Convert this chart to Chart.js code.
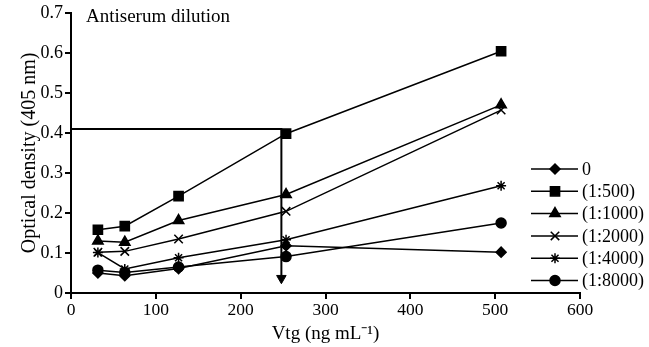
<!DOCTYPE html>
<html>
<head>
<meta charset="utf-8">
<script src="https://cdn.jsdelivr.net/npm/chart.js@4.4.1/dist/chart.umd.min.js"></script>
<style>
  html, body { margin: 0; padding: 0; background: #fff; }
  #wrap { width: 649px; height: 347px; }
</style>
</head>
<body>
<div id="wrap"><canvas id="myChart"></canvas></div>
<script>
// Vtg concentrations (ng/mL)
var vtg = [31.7, 63.4, 126.8, 253.5, 507];

var seriesNames = ["0", "(1:500)", "(1:1000)", "(1:2000)", "(1:4000)", "(1:8000)"];
var od0     = [0.050, 0.043, 0.061, 0.118, 0.102];
var od500   = [0.158, 0.167, 0.242, 0.398, 0.604];
var od1000  = [0.130, 0.127, 0.181, 0.246, 0.470];
var od2000  = [0.102, 0.104, 0.135, 0.204, 0.457];
var od4000  = [0.101, 0.060, 0.088, 0.133, 0.268];
var od8000  = [0.057, 0.051, 0.065, 0.091, 0.175];

// guide line: read 0.41 OD across to ~248 ng/mL, arrow down
var guideX = [0, 248, 248];
var guideY = [0.41, 0.41, 0.037];

var xTicks = [0, 100, 200, 300, 400, 500, 600];
var yTicks = [0, 0.1, 0.2, 0.3, 0.4, 0.5, 0.6, 0.7];

var FONT = "'Liberation Serif', 'Times New Roman', serif";

function pts(ys) {
    return vtg.map(function (x, i) { return { x: x, y: ys[i] }; });
}

var styles = [
    { pointStyle: 'rectRot', radius: 5 },
    { pointStyle: 'rect', radius: 6.5 },
    { pointStyle: 'triangle', radius: 6 },
    { pointStyle: 'crossRot', radius: 6 },
    { pointStyle: 'star', radius: 5 },
    { pointStyle: 'circle', radius: 5 }
];
var allSeries = [od0, od500, od1000, od2000, od4000, od8000];

var datasets = allSeries.map(function (ys, i) {
    return {
        label: seriesNames[i],
        data: pts(ys),
        borderColor: 'black',
        backgroundColor: 'black',
        borderWidth: 1.5,
        pointStyle: styles[i].pointStyle,
        pointRadius: styles[i].radius,
        pointBorderWidth: 1.5,
        pointBorderColor: 'black',
        pointBackgroundColor: 'black',
        tension: 0
    };
});

datasets.push({
    label: 'guide',
    data: guideX.map(function (x, i) { return { x: x, y: guideY[i] }; }),
    borderColor: 'black',
    backgroundColor: 'black',
    borderWidth: 2,
    pointStyle: 'triangle',
    pointRadius: [0, 0, 5.5],
    pointRotation: 180,
    pointBackgroundColor: 'black',
    pointBorderColor: 'black',
    pointBorderWidth: 1,
    tension: 0
});

// legend + inner title drawn by hand (legend sits inside plot, right side)
var extras = {
    id: 'extras',
    afterDraw: function (chart) {
        var c = chart.ctx;
        var area = chart.chartArea;
        c.save();
        c.fillStyle = 'black';
        c.font = '19px ' + FONT;
        c.textBaseline = 'alphabetic';
        c.textAlign = 'left';
        c.fillText('Antiserum dilution', area.left + 15, area.top + 9);

        c.font = '18px ' + FONT;
        c.textBaseline = 'middle';
        for (var i = 0; i < seriesNames.length; i++) {
            var y = 169 + i * 22.3;
            c.strokeStyle = 'black';
            c.lineWidth = 1.5;
            c.beginPath();
            c.moveTo(531, y);
            c.lineTo(578, y);
            c.stroke();
            Chart.helpers.drawPoint(c, {
                pointStyle: styles[i].pointStyle,
                radius: styles[i].radius,
                rotation: 0,
                borderWidth: 1.5
            }, 555, y);
            c.fillText(seriesNames[i], 582, y + 1);
        }
        c.restore();
    }
};

var ctx = document.getElementById("myChart");
var myChart = new Chart(ctx, {
    type: 'line',
    data: { datasets: datasets },
    options: {
        responsive: true,
        maintainAspectRatio: false,
        animation: false,
        layout: { padding: { top: 12, right: 69, bottom: 0, left: 0 } },
        plugins: {
            legend: { display: false },
            tooltip: { enabled: false }
        },
        scales: {
            x: {
                type: 'linear',
                min: 0,
                max: 600,
                afterFit: function (s) { s.height = 54; },
                afterBuildTicks: function (s) {
                    s.ticks = xTicks.map(function (v) { return { value: v }; });
                },
                grid: {
                    drawOnChartArea: false,
                    color: 'black',
                    lineWidth: 2,
                    tickLength: 6
                },
                border: { display: true, color: 'black', width: 2 },
                ticks: {
                    color: 'black',
                    padding: 1,
                    maxRotation: 0,
                    font: { family: FONT, size: 17.5 }
                },
                title: {
                    display: true,
                    text: 'Vtg (ng mL\u207B\u00B9)',
                    color: 'black',
                    padding: { top: 0, bottom: 2 },
                    font: { family: FONT, size: 19 }
                }
            },
            y: {
                min: 0,
                max: 0.7,
                afterFit: function (s) { s.width = 71; },
                afterBuildTicks: function (s) {
                    s.ticks = yTicks.map(function (v) { return { value: v }; });
                },
                grid: {
                    drawOnChartArea: false,
                    color: 'black',
                    lineWidth: 2,
                    tickLength: 6
                },
                border: { display: true, color: 'black', width: 2 },
                ticks: {
                    color: 'black',
                    padding: 2,
                    font: { family: FONT, size: 18 },
                    callback: function (v) { return v === 0 ? '0' : v.toFixed(1); }
                },
                title: {
                    display: true,
                    text: 'Optical density (405 nm)',
                    color: 'black',
                    padding: { top: 18, bottom: 0 },
                    font: { family: FONT, size: 20 }
                }
            }
        }
    },
    plugins: [extras]
});
</script>
</body>
</html>
